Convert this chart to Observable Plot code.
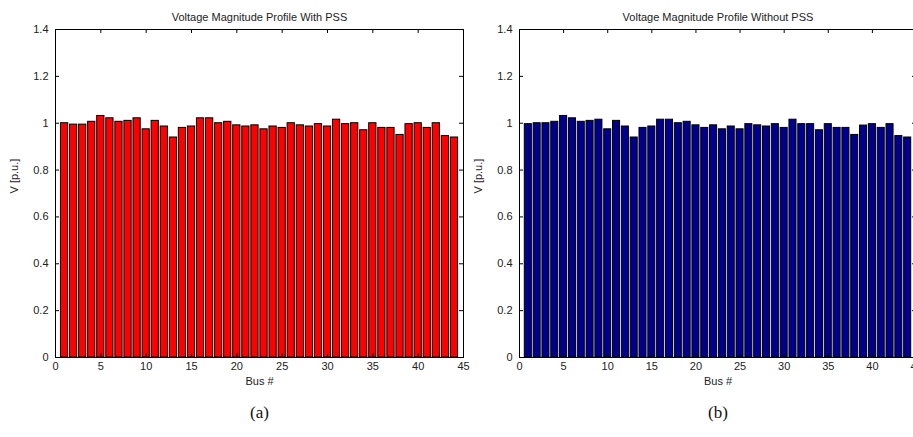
<!DOCTYPE html>
<html><head><meta charset="utf-8">
<script src="https://cdn.jsdelivr.net/npm/d3@7"></script>
<script src="https://cdn.jsdelivr.net/npm/@observablehq/plot@0.6"></script>
<style>
body{margin:0;background:#fff}
#wrap{position:relative;width:913px;height:437px;overflow:hidden;background:#fff}
.panel{position:absolute;top:0}
</style>
</head><body><div id="wrap"></div>
<script>
const buses = [1,2,3,4,5,6,7,8,9,10,11,12,13,14,15,16,17,18,19,20,21,22,23,24,25,26,27,28,29,30,31,32,33,34,35,36,37,38,39,40,41,42,43,44];
const withPSS = [1.000,0.994,0.994,1.006,1.031,1.021,1.006,1.010,1.021,0.974,1.010,0.986,0.939,0.980,0.986,1.021,1.021,1.000,1.006,0.991,0.986,0.991,0.974,0.986,0.980,1.000,0.991,0.986,0.996,0.986,1.015,0.996,1.000,0.970,1.000,0.980,0.980,0.950,0.996,1.000,0.980,1.000,0.945,0.939];
const withoutPSS = [0.996,1.000,1.000,1.006,1.031,1.021,1.006,1.010,1.015,0.974,1.010,0.986,0.939,0.980,0.986,1.015,1.015,1.000,1.006,0.991,0.980,0.991,0.974,0.986,0.974,0.996,0.991,0.986,0.996,0.980,1.015,0.996,0.996,0.970,0.996,0.980,0.980,0.950,0.990,0.996,0.980,0.996,0.945,0.939];
const xTicks = [0,5,10,15,20,25,30,35,40,45];
const yTicks = [0,0.2,0.4,0.6,0.8,1,1.2,1.4];
const titles = ["Voltage Magnitude Profile With PSS","Voltage Magnitude Profile Without PSS"];
const captions = ["(a)","(b)"];
const colors = ["#ff0000","#00008c"];

const panels = [
  {values: withPSS, left: 0, width: 470, ml: 55, mr: 7, title: titles[0], cap: captions[0], color: colors[0]},
  {values: withoutPSS, left: 470, width: 470, ml: 49, mr: 24, title: titles[1], cap: captions[1], color: colors[1]}
];
const H = 437, MT = 29, MB = 80;
const font = "Liberation Sans, Arial, Helvetica, sans-serif";

for (const p of panels) {
  const data = buses.map((b, i) => ({bus: b, v: p.values[i]}));
  const fw = p.width - p.ml - p.mr, fh = H - MT - MB;
  const chart = Plot.plot({
    width: p.width, height: H,
    marginLeft: p.ml, marginRight: p.mr, marginTop: MT, marginBottom: MB,
    style: {fontFamily: font, fontSize: "11px", color: "#222", background: "transparent", overflow: "visible"},
    x: {domain: [0, 45]},
    y: {domain: [0, 1.4]},
    marks: [
      Plot.rectY(data, {x1: d => d.bus - 0.4, x2: d => d.bus + 0.4, y: "v", fill: p.color, stroke: "#000", strokeWidth: 1}),
      Plot.ruleX(xTicks, {x: d => d, insetTop: fh - 4, stroke: "#000"}),
      Plot.ruleX(xTicks, {x: d => d, insetBottom: fh - 4, stroke: "#000"}),
      Plot.ruleY(yTicks, {y: d => d, insetRight: fw - 4, stroke: "#000"}),
      Plot.ruleY(yTicks, {y: d => d, insetLeft: fw - 4, stroke: "#000"}),
      Plot.frame({stroke: "#000"}),
      Plot.axisX({ticks: xTicks, tickSize: 0, tickPadding: 5, label: null, tickFormat: d => String(d)}),
      Plot.axisY({ticks: yTicks, tickSize: 0, tickPadding: 7, label: null, tickFormat: d => String(+d.toFixed(1))}),
      Plot.text([p.title], {frameAnchor: "top", dy: -16, fontSize: 11, fill: "#222"}),
      Plot.text(["Bus #"], {frameAnchor: "bottom", dy: 27, fontSize: 11, fill: "#222"}),
      Plot.text(["V [p.u.]"], {frameAnchor: "left", dx: -41, rotate: -90, fontSize: 11, fill: "#222"}),
      Plot.text([p.cap], {frameAnchor: "bottom", dy: 60, fontSize: 17, fontFamily: "Liberation Serif, Times New Roman, serif", fill: "#111"})
    ]
  });
  chart.classList.add("panel");
  chart.style.left = p.left + "px";
  document.getElementById("wrap").appendChild(chart);
}
</script>
</body></html>
